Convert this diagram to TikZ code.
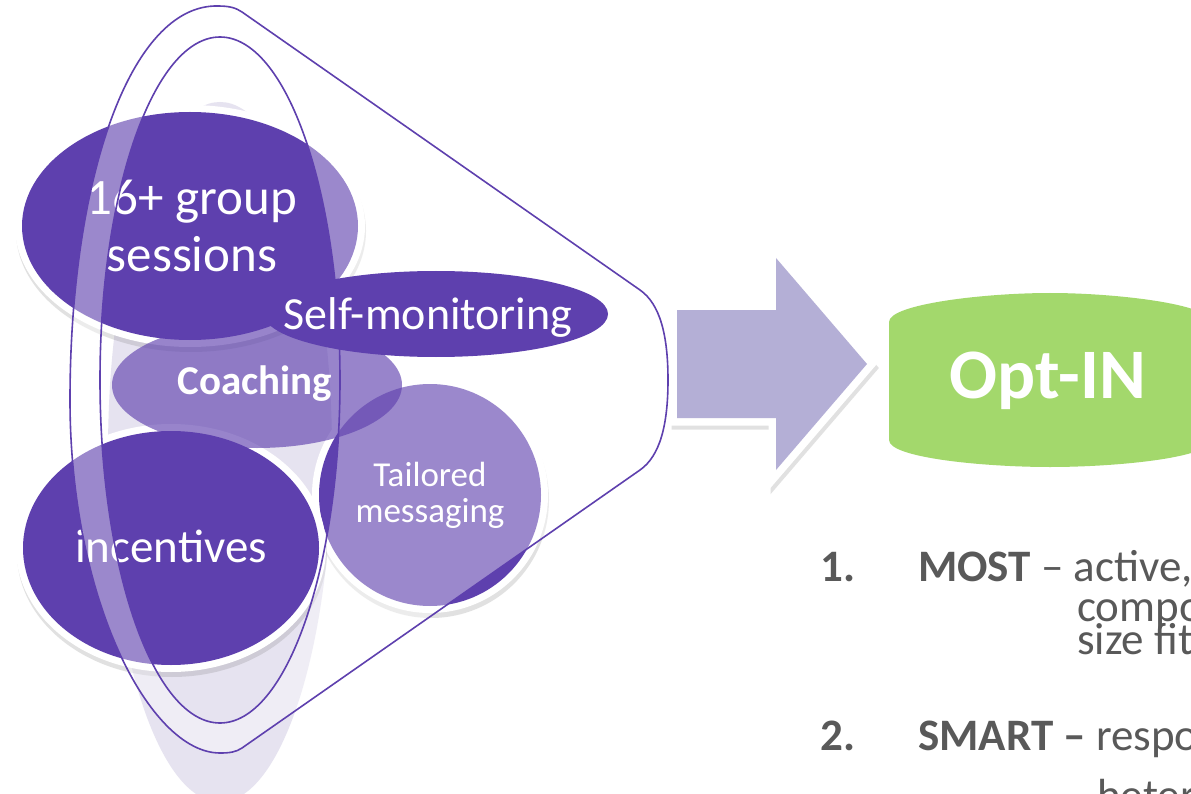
\documentclass[tikz,border=0pt]{standalone}
\usepackage{fontspec}
\setmainfont{Carlito}
\definecolor{deep}{HTML}{5E40AE}
\definecolor{pale}{HTML}{E6E3F0}
\definecolor{arrowc}{HTML}{B4AFD6}
\definecolor{optg}{HTML}{A3D86C}
\definecolor{greyt}{HTML}{595959}
\definecolor{shad}{HTML}{7A7A7A}
\newcommand\funnelOuterPath{(218,6) .. controls (230,6) and (236,8) .. (242,12) -- (640,290) .. controls (660,304) and (668,335) .. (668,380) .. controls (668,425) and (660,456) .. (640,470) -- (242,748) .. controls (236,752) and (230,753) .. (220,753) .. controls (150,753) and (70,600) .. (70,400) .. controls (70,180) and (130,4) .. (218,6) -- cycle}
\newcommand\arrowPolyPath{(677,310) -- (776,310) -- (776,258) -- (867,364) -- (776,470) -- (776,418) -- (677,418) -- cycle}
\tikzset{
  bubbletext/.style={text=white, anchor=base, inner sep=0pt},
  loopline/.style={draw=deep, line width=1.6pt},
  listtext/.style={text=greyt, anchor=base west, inner sep=0pt, font=\fontsize{45}{45}\selectfont},
  shadowfill/.style={fill=shad, opacity=0.22},
}
\begin{document}
\begin{tikzpicture}[x=1pt,y=-1pt]
\useasboundingbox (0,0) rectangle (1191,794);
\fill[white] (0,0) rectangle (1191,794);

% pale background shape
\fill[pale] (220,452) ellipse [x radius=112, y radius=350];

% Tailored messaging bubble
\fill[shadowfill] (431,500) circle [radius=118];
\fill[white] (430,495) circle [radius=118];
\fill[deep] (430,495) circle [radius=111];

% 16+ group sessions bubble
\fill[shadowfill] (191,231) ellipse [x radius=175, y radius=121];
\fill[white] (190,226) ellipse [x radius=175, y radius=121];
\fill[deep] (190,226) ellipse [x radius=168, y radius=114];

% incentives bubble
\fill[shadowfill] (172,553) ellipse [x radius=155, y radius=124];
\fill[white] (171,548) ellipse [x radius=155, y radius=124];
\fill[deep] (171,548) ellipse [x radius=148, y radius=117];

% light ring between the loops
\fill[white, opacity=0.38, even odd rule] \funnelOuterPath (220,380) ellipse [x radius=120, y radius=343];

% Coaching
\fill[deep, opacity=0.64] (257,385) ellipse [x radius=145, y radius=63];

% Self-monitoring
\fill[deep] (436,314) ellipse [x radius=172, y radius=43];

% texts in bubbles
\node[bubbletext, font=\fontsize{51}{57}\selectfont] (grp1) at (192,215) {16+ group};
\node[bubbletext, font=\fontsize{51}{57}\selectfont] (grp2) at (192,272) {sessions};
\node[bubbletext, font=\fontsize{46}{50}\selectfont] (selfmon) at (428,330) {Self-monitoring};
\node[bubbletext, font=\fontsize{41}{45}\selectfont\bfseries] (coach) at (255,394) {Coaching};
\node[bubbletext, font=\fontsize{35}{38}\selectfont] (tail1) at (430,486) {Tailored};
\node[bubbletext, font=\fontsize{35}{38}\selectfont] (tail2) at (430,522) {messaging};
\node[bubbletext, font=\fontsize{47}{50}\selectfont] (incent) at (171,562) {incentives};

% loop outlines
\draw[loopline] \funnelOuterPath;
\draw[loopline] (220,380) ellipse [x radius=120, y radius=343];

% block arrow
\draw[shad, opacity=0.22, line width=15pt, line join=miter, shift={(2,4)}] \arrowPolyPath;
\draw[white, line width=15pt, line join=miter] \arrowPolyPath;
\fill[arrowc] \arrowPolyPath;

% Opt-IN shape
\fill[optg] (889,440) -- (889,322) .. controls (889,304) and (985,293) .. (1050,293) .. controls (1115,293) and (1211,304) .. (1211,322) -- (1211,440) .. controls (1211,458) and (1115,467) .. (1050,467) .. controls (985,467) and (889,458) .. (889,440) -- cycle;
\node[bubbletext, font=\fontsize{71}{75}\selectfont\bfseries] (optin) at (1048,398) {Opt-IN};

% list
\node[listtext, font=\fontsize{45}{45}\selectfont\bfseries] (n1) at (820,581) {1.};
\node[listtext] (m1) at (918,581) {\textbf{MOST} – active,};
\node[listtext] (m1b) at (1077,621) {compo};
\node[listtext] (m1c) at (1077,654) {size fit};
\node[listtext, font=\fontsize{45}{45}\selectfont\bfseries] (n2) at (820,750) {2.};
\node[listtext] (m2) at (918,750) {\textbf{SMART –} respo};
\node[listtext] (m2b) at (1097,810) {heter};
\end{tikzpicture}
\end{document}
